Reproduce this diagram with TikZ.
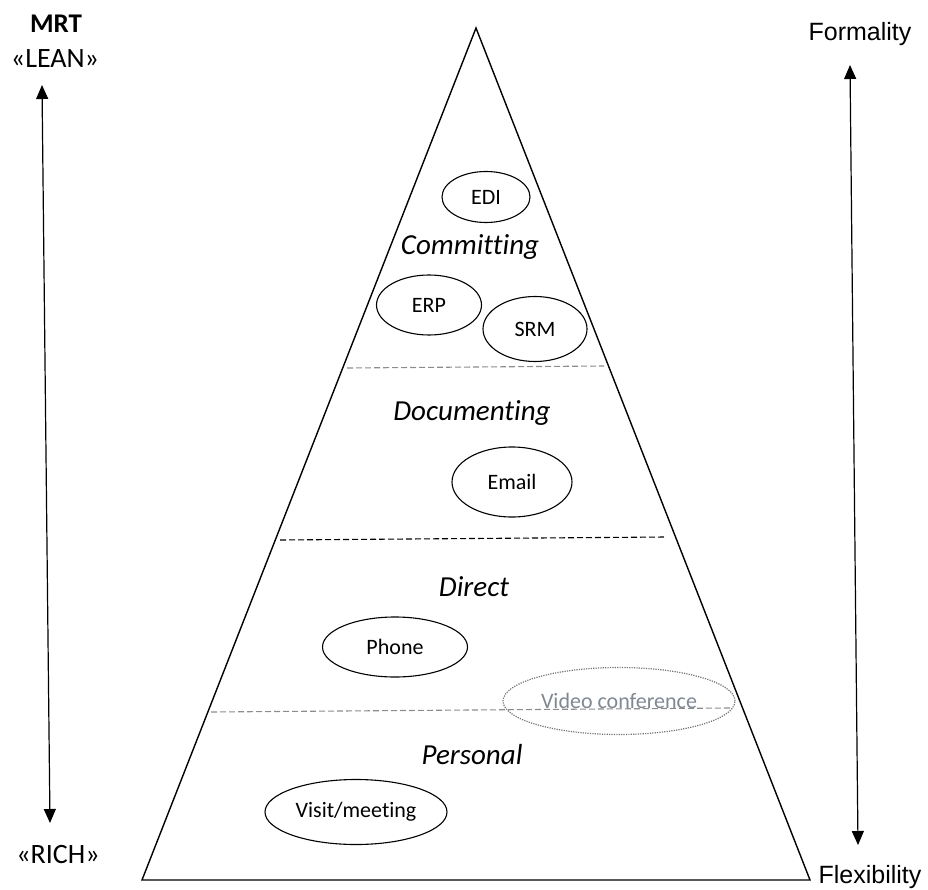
\documentclass[tikz,border=0pt]{standalone}
\usepackage{fontspec}
\setmainfont[Ligatures=NoCommon]{Carlito}
\newfontfamily\arialfont{Liberation Sans}
\usepackage{tikz}
\usetikzlibrary{arrows.meta,positioning,shapes.geometric}
\definecolor{dashgrey}{HTML}{8C8C8C}
\definecolor{videogrey}{HTML}{7F8893}

\begin{document}
\begin{tikzpicture}[x=1pt, y=-1pt,
    medium/.style={draw, ellipse, line width=1.1pt, inner sep=0pt,
                   font=\fontsize{22}{26}\selectfont},
    level/.style={font=\fontsize{29}{34}\selectfont\itshape},
    sep/.style={dashed, dash pattern=on 6pt off 3pt, line width=1.1pt},
    mrtlabel/.style={font=\fontsize{28}{32}\selectfont},
    axis/.style={font=\arialfont\fontsize{25}{30}\selectfont},
    dbl/.style={{Triangle[length=14pt,width=12pt]}-{Triangle[length=14pt,width=12pt]},
                line width=1.2pt},
  ]
    \useasboundingbox (0,0) rectangle (928,890);

    % Pyramid
    \coordinate (apex) at (476,28);
    \coordinate (bl) at (142,880);
    \coordinate (br) at (810,880);
    \draw[line width=1.4pt, line join=miter] (apex) -- (bl) -- (br) -- cycle;

    % Level separators
    \coordinate (s1a) at (347,368);  \coordinate (s1b) at (604,366);
    \coordinate (s2a) at (280,540);  \coordinate (s2b) at (666,537);
    \coordinate (s3a) at (211,712);  \coordinate (s3b) at (730,708);
    \draw[sep, dashgrey] (s1a) -- (s1b);
    \draw[sep, black]    (s2a) -- (s2b);
    \draw[sep, dashgrey] (s3a) -- (s3b);

    % Levels
    \node[level] (commit)   at (470,247) {Committing};
    \node[level] (docu)     at (472,413) {Documenting};
    \node[level] (direct)   at (474,587) {Direct};
    \node[level] (personal) at (472,755) {Personal};

    % Media
    \node[medium, minimum width=88pt,  minimum height=51pt] (edi)   at (486,197) {EDI};
    \node[medium, minimum width=105pt, minimum height=60pt] (erp)   at (429,305) {ERP};
    \node[medium, minimum width=104pt, minimum height=65pt] (srm)   at (535,329) {SRM};
    \node[medium, minimum width=120pt, minimum height=70pt] (email) at (512,482) {Email};
    \node[medium, minimum width=145pt, minimum height=60pt] (phone) at (395,647) {Phone};
    \node[medium, minimum width=232pt, minimum height=67pt, line width=1.2pt,
          dash pattern=on 1.2pt off 1.2pt, black!55, text=videogrey] (video) at (619,701) {Video conference};
    \node[medium, minimum width=182pt, minimum height=65pt] (visit) at (356,812) {Visit/meeting};

    % MRT scale
    \node[font=\fontsize{27}{32}\selectfont\bfseries] (mrt) at (56,24) {MRT};
    \node[mrtlabel] (lean) at (55,59) {«LEAN»};
    \node[mrtlabel] (rich) at (58,855) {«RICH»};
    \coordinate (leantip) at (42,85);
    \coordinate (richtip) at (50,823);
    \draw[dbl] (leantip) -- (richtip);

    % Formality / flexibility
    \node[axis] (form) at (860,34) {Formality};
    \node[axis] (flex) at (870,877) {Flexibility};
    \coordinate (formtip) at (850,65);
    \coordinate (flextip) at (858,845);
    \draw[dbl] (formtip) -- (flextip);
\end{tikzpicture}
\end{document}
